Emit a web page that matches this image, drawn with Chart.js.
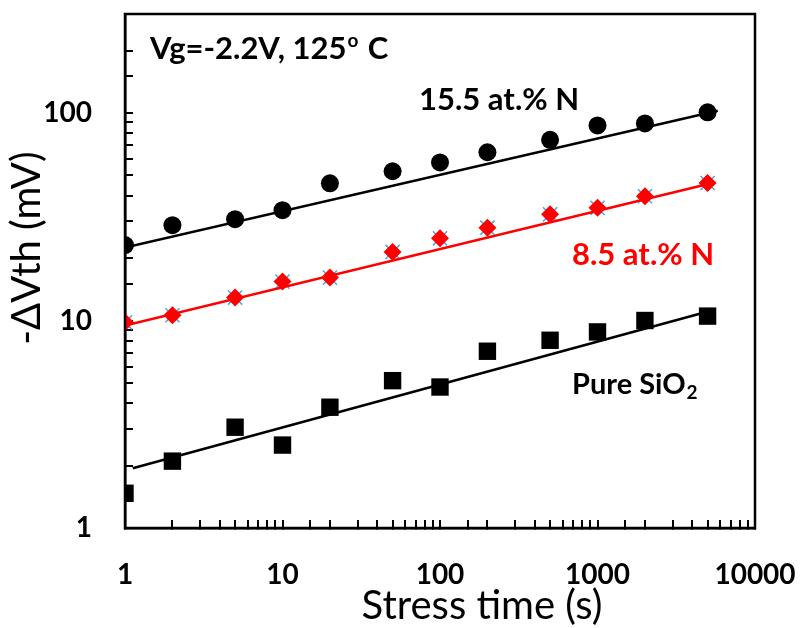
<!DOCTYPE html>
<html>
<head>
<meta charset="utf-8">
<script src="https://cdn.jsdelivr.net/npm/chart.js@4.4.1/dist/chart.umd.min.js"></script>
<style>
  html, body { margin: 0; padding: 0; background: #fff; }
  #wrap { width: 800px; height: 628px; position: relative; }
</style>
</head>
<body>
<div id="wrap"><canvas id="c"></canvas></div>
<script>
// Stress time (s)
const stressTime = [1, 2, 5, 10, 20, 50, 100, 200, 500, 1000, 2000, 5000];
// -ΔVth (mV) for each gate dielectric
const dvthN155 = [23.1, 28.8, 30.8, 34.0, 45.8, 52.4, 57.8, 64.7, 74.3, 87.1, 89.1, 100.7];
const dvthN85  = [9.8, 10.6, 12.9, 15.4, 16.1, 21.4, 24.9, 28.0, 32.5, 34.9, 39.7, 46.0];
const dvthSiO2 = [1.47, 2.10, 3.06, 2.51, 3.82, 5.13, 4.78, 7.11, 8.03, 8.81, 10.0, 10.5];

// Power-law fit lines (end points)
const fitTimeN155 = [1, 5800];
const fitN155     = [22.5, 102.6];
const fitTimeN85  = [1, 5600];
const fitN85      = [9.45, 46.4];
const fitTimeSiO2 = [1.12, 5600];
const fitSiO2     = [1.94, 11.3];

// Labelled decades
const xTickLabels = [1, 10, 100, 1000, 10000];
const yTickLabels = [1, 10, 100];

const pts = (xs, ys) => xs.map((x, i) => ({ x: x, y: ys[i] }));
const isLabelled = (v, list) => list.some(t => Math.abs(v - t) < 1e-6 * t);

const FONT = 'Lato, "Open Sans", sans-serif';

// Frame, axis titles and in-plot annotations
const decorations = {
  id: 'decorations',
  afterDatasetsDraw(chart) {
    const ctx = chart.ctx;
    const a = chart.chartArea;
    ctx.save();
    ctx.strokeStyle = '#000';
    ctx.lineWidth = 2.5;
    ctx.strokeRect(a.left, a.top, a.right - a.left, a.bottom - a.top);

    ctx.textBaseline = 'middle';
    ctx.textAlign = 'left';
    ctx.fillStyle = '#000';

    // condition
    ctx.font = 'bold 31px ' + FONT;
    let x = 150, y = 49;
    let s = 'Vg=-2.2V, 125';
    ctx.fillText(s, x, y);
    x += ctx.measureText(s).width + 1;
    ctx.font = 'bold 19px ' + FONT;
    ctx.fillText('o', x, y - 8);
    x += ctx.measureText('o').width + 2;
    ctx.font = 'bold 31px ' + FONT;
    ctx.fillText(' C', x, y);

    // series labels
    ctx.fillText('15.5 at.% N', 419, 100);
    ctx.fillStyle = '#ff0000';
    ctx.fillText('8.5 at.% N', 572, 255);
    ctx.fillStyle = '#000';
    ctx.font = 'bold 29px ' + FONT;
    s = 'Pure SiO';
    ctx.fillText(s, 572, 385);
    const w = ctx.measureText(s).width;
    ctx.font = 'bold 19px ' + FONT;
    ctx.fillText('2', 572 + w + 1, 393);

    // axis titles
    ctx.font = '40px ' + FONT;
    ctx.textAlign = 'center';
    ctx.fillText('Stress time (s)', 482, 606);
    ctx.translate(27, 248);
    ctx.rotate(-Math.PI / 2);
    ctx.fillText('-\u0394Vth (mV)', 0, 0);
    ctx.restore();
  }
};

const noPadding = (s) => {
  s.paddingLeft = 0; s.paddingRight = 0; s.paddingTop = 0; s.paddingBottom = 0;
};

const axisCommon = {
  type: 'logarithmic',
  border: { display: true, color: '#000', width: 2.5 },
  grid: {
    display: true,
    drawOnChartArea: false,
    drawTicks: true,
    tickLength: -8,
    color: '#000',
    lineWidth: 2
  }
};

new Chart(document.getElementById('c'), {
  type: 'scatter',
  data: {
    datasets: [
      {
        label: 'fit 15.5 at.% N',
        data: pts(fitTimeN155, fitN155),
        showLine: true, borderColor: '#000', borderWidth: 2.5,
        pointRadius: 0, order: 1
      },
      {
        label: 'fit 8.5 at.% N',
        data: pts(fitTimeN85, fitN85),
        showLine: true, borderColor: '#ff0000', borderWidth: 2.5,
        pointRadius: 0, order: 1
      },
      {
        label: 'fit Pure SiO2',
        data: pts(fitTimeSiO2, fitSiO2),
        showLine: true, borderColor: '#000', borderWidth: 2.5,
        pointRadius: 0, order: 1
      },
      {
        label: '15.5 at.% N',
        data: pts(stressTime, dvthN155),
        pointStyle: 'circle', pointRadius: 9,
        backgroundColor: '#000', borderColor: '#000', pointBorderWidth: 0,
        order: 2
      },
      {
        label: '8.5 at.% N',
        data: pts(stressTime, dvthN85),
        pointStyle: 'rectRot', pointRadius: 9,
        backgroundColor: '#ff0000', borderColor: '#ff0000', pointBorderWidth: 0,
        order: 2
      },
      {
        label: '8.5 at.% N (x)',
        data: pts(stressTime, dvthN85),
        pointStyle: 'crossRot', pointRadius: 10,
        backgroundColor: '#4da6e0', borderColor: '#4da6e0', pointBorderWidth: 1.5,
        order: 3
      },
      {
        label: 'Pure SiO2',
        data: pts(stressTime, dvthSiO2),
        pointStyle: 'rect', pointRadius: 12.3,
        backgroundColor: '#000', borderColor: '#000', pointBorderWidth: 0,
        order: 2
      }
    ]
  },
  options: {
    responsive: true,
    maintainAspectRatio: false,
    animation: false,
    layout: { autoPadding: false, padding: { top: 14, right: 45, left: 0, bottom: 0 } },
    plugins: { legend: { display: false }, tooltip: { enabled: false } },
    scales: {
      x: Object.assign({}, axisCommon, {
        min: 1, max: 10000,
        ticks: {
          autoSkip: false, maxRotation: 0, padding: 38,
          color: '#000',
          font: { family: FONT, size: 28, weight: 'bold' },
          callback: (v) => isLabelled(v, xTickLabels) ? String(Math.round(v)) : ''
        },
        afterFit: (s) => { s.height = 100; noPadding(s); }
      }),
      y: Object.assign({}, axisCommon, {
        min: 1, max: 300,
        ticks: {
          autoSkip: false, padding: 41,
          color: '#000',
          font: { family: FONT, size: 28, weight: 'bold' },
          callback: (v) => isLabelled(v, yTickLabels) ? String(Math.round(v)) : ''
        },
        afterFit: (s) => { s.width = 125; noPadding(s); }
      })
    }
  },
  plugins: [decorations]
});
</script>
</body>
</html>
